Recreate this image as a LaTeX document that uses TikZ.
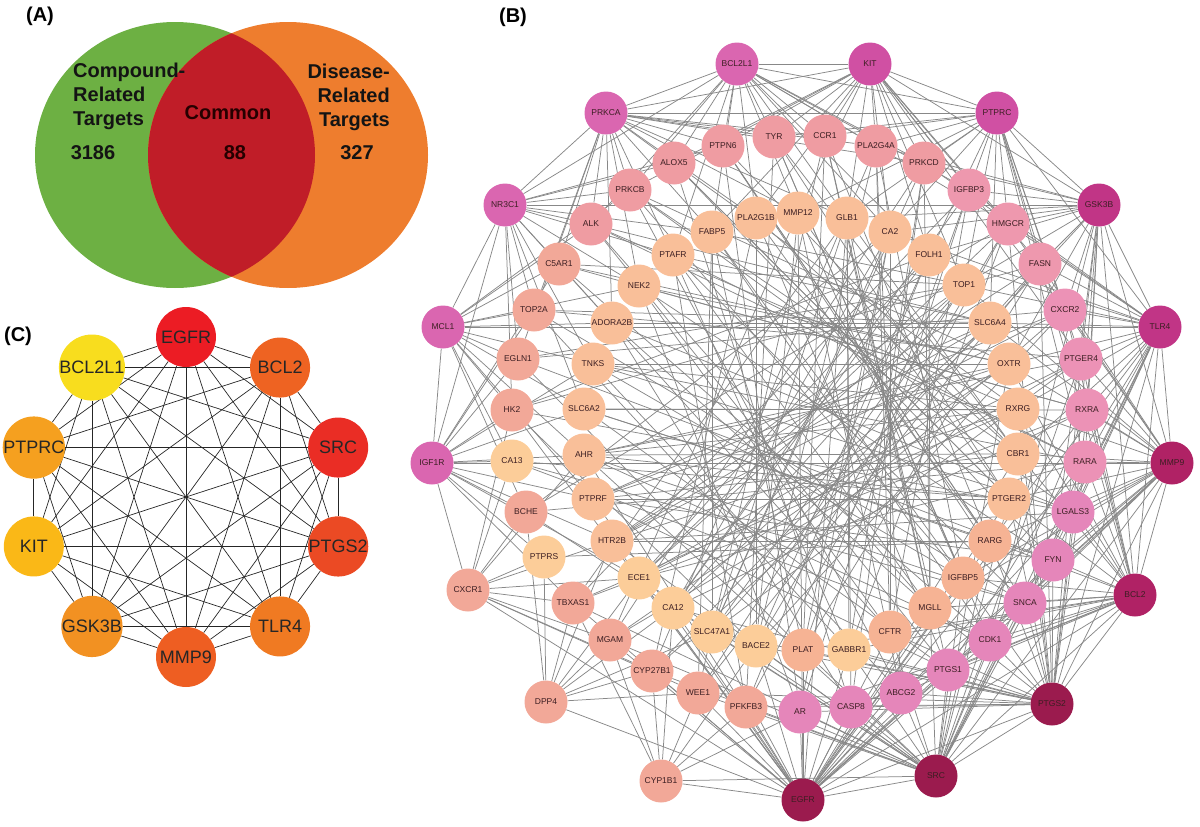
\documentclass[tikz,border=0pt]{standalone}
\usepackage{fontspec}
\setmainfont{Liberation Sans}
\usetikzlibrary{backgrounds}

\definecolor{vgreen}{HTML}{6DB043}
\definecolor{vorange}{HTML}{EE7D2E}
\definecolor{vred}{HTML}{C01D28}
\definecolor{edgegray}{HTML}{888888}
\definecolor{genetext}{HTML}{3C1E22}
\definecolor{hubA}{HTML}{9B1B4E}
\definecolor{hubB}{HTML}{B02265}
\definecolor{hubC}{HTML}{C13586}
\definecolor{hubD}{HTML}{D050A3}
\definecolor{hubE}{HTML}{DA66B0}
\definecolor{pinkM}{HTML}{E586BA}
\definecolor{pinkR}{HTML}{EC92B6}
\definecolor{pinkS}{HTML}{EE98AE}
\definecolor{salmpink}{HTML}{EF9CA2}
\definecolor{salm}{HTML}{F2A898}
\definecolor{peach}{HTML}{F9BF99}
\definecolor{peachS}{HTML}{F6B394}
\definecolor{yel}{HTML}{FCCD99}
% core gene colours for (C)
\definecolor{hEGFR}{HTML}{EC1C24}
\definecolor{hBCL2}{HTML}{EE6322}
\definecolor{hSRC}{HTML}{EA2D25}
\definecolor{hPTGS2}{HTML}{EB4A24}
\definecolor{hTLR4}{HTML}{F07A22}
\definecolor{hMMP9}{HTML}{EE5E22}
\definecolor{hGSK3B}{HTML}{F29122}
\definecolor{hKIT}{HTML}{FAB817}
\definecolor{hPTPRC}{HTML}{F5A01F}
\definecolor{hBCL2L1}{HTML}{F8DD1E}

\tikzstyle{gene}=[circle, minimum size=43pt, inner sep=0pt, text=genetext, font=\fontsize{8.5}{9}\selectfont]
\tikzstyle{core}=[circle, minimum size=60pt, inner sep=0pt, text=black!85, font=\fontsize{18}{18}\selectfont]
\tikzstyle{link}=[edgegray, line width=0.75pt]
\tikzstyle{clink}=[black!85, line width=0.7pt]
\tikzstyle{venntext}=[inner sep=0pt, text=black!92, font=\fontsize{20}{24}\bfseries]
\tikzstyle{panel}=[inner sep=0pt, font=\fontsize{20}{20}\bfseries]

\begin{document}
\begin{tikzpicture}[x=1pt, y=-1pt]
\useasboundingbox (0,0) rectangle (1200,827);

% panel labels
\node[panel] (labA) at (40,16) {(A)};
\node[panel] (labB) at (513,17) {(B)};
\node[panel] (labC) at (18,336) {(C)};

% (A) venn
\fill[vgreen] (175,155) ellipse [x radius=140, y radius=133];
\fill[vorange] (288,155) ellipse [x radius=140, y radius=133];
\begin{scope}
  \clip (175,155) ellipse [x radius=140, y radius=133];
  \fill[vred] (288,155) ellipse [x radius=140, y radius=133];
\end{scope}
\node[venntext, anchor=west, align=left] (cmp) at (73,96) {Compound-\\Related\\Targets};
\node[venntext] (cmpn) at (93,153) {3186};
\node[venntext, text=black!85!red] (com) at (228,113) {Common};
\node[venntext, text=black!85!red] (comn) at (235,153) {88};
\node[venntext, anchor=east, align=right] (dis) at (390,97) {Disease-\\Related\\Targets};
\node[venntext] (disn) at (357,153) {327};

% (B) outer ring
\node[gene, fill=hubA] (EGFR) at (803,800) {EGFR};
\node[gene, fill=hubA] (SRC) at (936,776) {SRC};
\node[gene, fill=hubA] (PTGS2) at (1052,704) {PTGS2};
\node[gene, fill=hubB] (BCL2) at (1135,595) {BCL2};
\node[gene, fill=hubB] (MMP9) at (1172,463) {MMP9};
\node[gene, fill=hubC] (TLR4) at (1160,327) {TLR4};
\node[gene, fill=hubC] (GSK3B) at (1099,205) {GSK3B};
\node[gene, fill=hubD] (PTPRC) at (997,113) {PTPRC};
\node[gene, fill=hubD] (KIT) at (870,64) {KIT};
\node[gene, fill=hubE] (BCL2L1) at (737,64) {BCL2L1};
\node[gene, fill=hubE] (PRKCA) at (606,113) {PRKCA};
\node[gene, fill=hubE] (NR3C1) at (505,205) {NR3C1};
\node[gene, fill=hubE] (MCL1) at (443,327) {MCL1};
\node[gene, fill=hubE] (IGF1R) at (432,463) {IGF1R};
\node[gene, fill=salm] (CXCR1) at (468,590) {CXCR1};
\node[gene, fill=salm] (DPP4) at (546,702) {DPP4};
\node[gene, fill=salm] (CYP1B1) at (661,781) {CYP1B1};

% (B) middle ring
\node[gene, fill=salmpink] (PTPN6) at (723,146) {PTPN6};
\node[gene, fill=salmpink] (TYR) at (774,137) {TYR};
\node[gene, fill=salmpink] (CCR1) at (825,136) {CCR1};
\node[gene, fill=salmpink] (PLA2G4A) at (876,146) {PLA2G4A};
\node[gene, fill=salmpink] (PRKCD) at (924,163) {PRKCD};
\node[gene, fill=pinkS] (IGFBP3) at (969,190) {IGFBP3};
\node[gene, fill=pinkS] (HMGCR) at (1008,224) {HMGCR};
\node[gene, fill=pinkS] (FASN) at (1040,264) {FASN};
\node[gene, fill=pinkR] (CXCR2) at (1065,310) {CXCR2};
\node[gene, fill=pinkR] (PTGER4) at (1081,359) {PTGER4};
\node[gene, fill=pinkR] (RXRA) at (1087,410) {RXRA};
\node[gene, fill=pinkR] (RARA) at (1085,462) {RARA};
\node[gene, fill=pinkM] (LGALS3) at (1073,512) {LGALS3};
\node[gene, fill=pinkM] (FYN) at (1053,560) {FYN};
\node[gene, fill=pinkM] (SNCA) at (1025,603) {SNCA};
\node[gene, fill=pinkM] (CDK1) at (990,640) {CDK1};
\node[gene, fill=pinkM] (PTGS1) at (948,670) {PTGS1};
\node[gene, fill=pinkM] (ABCG2) at (901,693) {ABCG2};
\node[gene, fill=pinkM] (CASP8) at (851,707) {CASP8};
\node[gene, fill=pinkM] (AR) at (800,712) {AR};
\node[gene, fill=salm] (PFKFB3) at (746,707) {PFKFB3};
\node[gene, fill=salm] (WEE1) at (698,693) {WEE1};
\node[gene, fill=salm] (CYP27B1) at (652,671) {CYP27B1};
\node[gene, fill=salm] (MGAM) at (610,640) {MGAM};
\node[gene, fill=salm] (TBXAS1) at (573,603) {TBXAS1};
\node[gene, fill=salm] (BCHE) at (526,512) {BCHE};
\node[gene, fill=salm] (HK2) at (512,410) {HK2};
\node[gene, fill=salm] (EGLN1) at (518,359) {EGLN1};
\node[gene, fill=salm] (TOP2A) at (534,310) {TOP2A};
\node[gene, fill=salm] (C5AR1) at (559,264) {C5AR1};
\node[gene, fill=salmpink] (ALK) at (591,224) {ALK};
\node[gene, fill=salmpink] (PRKCB) at (630,190) {PRKCB};
\node[gene, fill=salmpink] (ALOX5) at (674,163) {ALOX5};

% (B) inner ring
\node[gene, fill=peach] (PLA2G1B) at (756,218) {PLA2G1B};
\node[gene, fill=peach] (MMP12) at (798,213) {MMP12};
\node[gene, fill=peach] (GLB1) at (847,218) {GLB1};
\node[gene, fill=peach] (CA2) at (890,232) {CA2};
\node[gene, fill=peach] (FOLH1) at (929,255) {FOLH1};
\node[gene, fill=peach] (TOP1) at (964,285) {TOP1};
\node[gene, fill=peach] (SLC6A4) at (990,323) {SLC6A4};
\node[gene, fill=peach] (OXTR) at (1009,364) {OXTR};
\node[gene, fill=peach] (RXRG) at (1018,409) {RXRG};
\node[gene, fill=peach] (CBR1) at (1018,454) {CBR1};
\node[gene, fill=peach] (PTGER2) at (1009,499) {PTGER2};
\node[gene, fill=peachS] (RARG) at (990,541) {RARG};
\node[gene, fill=peachS] (IGFBP5) at (963,578) {IGFBP5};
\node[gene, fill=peachS] (MGLL) at (930,608) {MGLL};
\node[gene, fill=peachS] (CFTR) at (890,632) {CFTR};
\node[gene, fill=yel] (GABBR1) at (849,650) {GABBR1};
\node[gene, fill=peachS] (PLAT) at (803,650) {PLAT};
\node[gene, fill=yel] (BACE2) at (756,646) {BACE2};
\node[gene, fill=yel] (SLC47A1) at (712,632) {SLC47A1};
\node[gene, fill=yel] (CA12) at (673,608) {CA12};
\node[gene, fill=yel] (ECE1) at (639,578) {ECE1};
\node[gene, fill=yel] (PTPRS) at (544,557) {PTPRS};
\node[gene, fill=peach] (HTR2B) at (612,541) {HTR2B};
\node[gene, fill=peach] (PTPRF) at (593,499) {PTPRF};
\node[gene, fill=yel] (CA13) at (512,461) {CA13};
\node[gene, fill=peach] (AHR) at (584,455) {AHR};
\node[gene, fill=peach] (SLC6A2) at (584,409) {SLC6A2};
\node[gene, fill=peach] (TNKS) at (593,364) {TNKS};
\node[gene, fill=peach] (ADORA2B) at (612,323) {ADORA2B};
\node[gene, fill=peach] (NEK2) at (639,286) {NEK2};
\node[gene, fill=peach] (PTAFR) at (673,255) {PTAFR};
\node[gene, fill=peach] (FABP5) at (712,232) {FABP5};

% (C) hub genes
\foreach \name/\ang [count=\i from 0] in {EGFR/90, BCL2/54, SRC/18, PTGS2/-18, TLR4/-54, MMP9/-90, GSK3B/-126, KIT/-162, PTPRC/162, BCL2L1/126}
  \node[core, fill=h\name] (c\i) at ({186+160*cos(\ang)}, {497-160*sin(\ang)}) {\name};

\begin{pgfonlayer}{background}
  % (C) every pair
  \foreach \i in {0,...,8} {
    \pgfmathtruncatemacro\nxt{\i+1}
    \foreach \j in {\nxt,...,9}
      \draw[clink] (c\i) -- (c\j);
  }
  % (B) hub fans
  \foreach \hub/\targets in {
    EGFR/{AR,CASP8,ABCG2,PTGS1,CDK1,SNCA,FYN,LGALS3,RARA,PTGS2,SRC,BCL2,PLAT,GABBR1,CFTR,MGLL,IGFBP5,BACE2,PFKFB3,WEE1,CYP27B1,CYP1B1,SLC47A1,CA12,ECE1,MGAM,TBXAS1,DPP4,PTPRF,HTR2B,AHR,CBR1,PTGER2,RXRA,MMP9,TLR4,CXCR1,HK2,MMP12,GLB1},
    SRC/{AR,CASP8,ABCG2,PTGS1,CDK1,SNCA,FYN,LGALS3,RARA,RXRA,PTGS2,BCL2,PLAT,GABBR1,CFTR,MGLL,IGFBP5,RARG,PTGER2,BACE2,PFKFB3,WEE1,SLC47A1,CYP27B1,MGAM,TBXAS1,CYP1B1,HTR2B,AHR,OXTR,PTGER4,MMP9,TLR4,CA12,ECE1},
    PTGS2/{BCL2,CDK1,PTGS1,SNCA,FYN,LGALS3,ABCG2,CASP8,AR,RARA,RXRA,PTGER4,MGLL,IGFBP5,CFTR,GABBR1,RARG,PTGER2,CBR1,PLAT,BACE2,PFKFB3,WEE1,TLR4,MMP9,SLC47A1,CA12,RXRG,HMGCR,FASN},
    BCL2/{MMP9,TLR4,FYN,SNCA,CDK1,LGALS3,PTGS1,ABCG2,CASP8,AR,RARA,RXRA,IGFBP5,MGLL,PTGER4,CXCR2,RARG,PTGER2,CBR1,CFTR,GABBR1,PLAT,GSK3B,FASN,OXTR,RXRG},
    MMP9/{TLR4,RARA,RXRA,LGALS3,PTGER4,CXCR2,FYN,SNCA,FASN,HMGCR,CBR1,RXRG,OXTR,PTGER2,PTGS1,CDK1,IGF1R,RARG,IGFBP5,GSK3B,SLC6A4,TOP1,MGLL,ABCG2},
    TLR4/{GSK3B,CXCR2,PTGER4,RXRA,RARA,FASN,HMGCR,IGFBP3,SLC6A4,TOP1,OXTR,LGALS3,FYN,MCL1,FOLH1,PRKCD,RXRG,CBR1,SNCA,PTGS1,PTPRC,CA2},
    GSK3B/{PTPRC,HMGCR,FASN,IGFBP3,CXCR2,PTGER4,RXRA,PRKCD,NR3C1,TOP1,FOLH1,SLC6A4,CA2,PLA2G4A,RARA,OXTR,LGALS3,CDK1,FYN,KIT,GLB1},
    PTPRC/{KIT,IGFBP3,HMGCR,FASN,PRKCD,PLA2G4A,CCR1,CXCR2,PTGER4,RXRA,PRKCA,TYR,FOLH1,CA2,TOP1,GLB1,SLC6A4,RARA,MMP12,BCL2L1},
    KIT/{BCL2L1,CCR1,PLA2G4A,PRKCD,IGFBP3,TYR,PTPN6,HMGCR,GLB1,CA2,FOLH1,MMP12,PLA2G1B,ALOX5,PRKCB,FASN,CXCR2,PTGER4,TOP1,FABP5,PRKCA},
    BCL2L1/{PRKCA,PTPN6,TYR,ALOX5,PRKCB,CCR1,PLA2G4A,PLA2G1B,MMP12,GLB1,FABP5,PTAFR,PRKCD,IGFBP3,ALK,NR3C1,CA2,HMGCR,FOLH1},
    PRKCA/{NR3C1,ALOX5,PRKCB,PTPN6,ALK,C5AR1,TYR,PTAFR,FABP5,TOP2A,PLA2G1B,CCR1,NEK2,ADORA2B,MMP12,PLA2G4A,EGLN1,PRKCD,GLB1},
    NR3C1/{MCL1,ALK,C5AR1,TOP2A,EGLN1,PRKCB,HK2,ALOX5,PTAFR,NEK2,ADORA2B,TNKS,SLC6A2,FABP5,PTPN6,IGF1R},
    MCL1/{IGF1R,TOP2A,EGLN1,HK2,C5AR1,ADORA2B,TNKS,SLC6A2,AHR,ALK,NEK2,CA13,PTPRF,BCHE,PRKCB},
    IGF1R/{HK2,CA13,BCHE,CXCR1,EGLN1,PTPRS,TBXAS1,AHR,PTPRF,SLC6A2,TNKS,HTR2B,ECE1,TOP2A,C5AR1},
    CXCR1/{PTPRS,TBXAS1,MGAM,BCHE,HK2,CA13,HTR2B,ECE1,CYP27B1,WEE1,AHR},
    DPP4/{MGAM,TBXAS1,CYP27B1,PTPRS,ECE1,CA12,SLC47A1,WEE1,BCHE,HTR2B},
    CYP1B1/{CYP27B1,MGAM,WEE1,AR,PFKFB3,TBXAS1,CA12,BACE2}}
  {\foreach \t in \targets \draw[link] (\hub) -- (\t);}
  % (B) chords across the middle
  \foreach \a/\b in {PTPN6/RARG, TYR/CBR1, ALOX5/PTGER2, PRKCB/IGFBP5, ALK/MGLL, C5AR1/CFTR, TOP2A/GABBR1, EGLN1/PLAT, HK2/BACE2, BCHE/SLC47A1, TBXAS1/RXRG, MGAM/OXTR, CYP27B1/SLC6A4, WEE1/TOP1, PFKFB3/FOLH1, AR/CA2, CASP8/GLB1, ABCG2/MMP12, PTGS1/PLA2G1B, CDK1/FABP5, SNCA/PTAFR, FYN/NEK2, LGALS3/ADORA2B, RARA/TNKS, RXRA/SLC6A2, PTGER4/AHR, CXCR2/PTPRF, FASN/HTR2B, HMGCR/ECE1, IGFBP3/CA12, PRKCD/SLC47A1, PLA2G4A/BACE2, CCR1/PLAT, ADORA2B/SLC6A4, TNKS/OXTR, SLC6A2/RXRG, AHR/CBR1, PTPRF/PTGER2, HTR2B/RARG, PLA2G1B/BACE2, CA2/CFTR, FABP5/SLC47A1, GLB1/GABBR1, FOLH1/MGLL, NEK2/CFTR, PTAFR/MGLL, FABP5/IGFBP5, PLA2G1B/RARG, MMP12/PTGER2, GLB1/CBR1, CA2/SLC47A1, FOLH1/CA12, TOP1/ECE1, SLC6A4/HTR2B, OXTR/PTPRF, RXRG/AHR, NEK2/RXRA, PTAFR/RARA, TNKS/LGALS3, SLC6A2/FYN, AHR/SNCA, CA13/CDK1, PTPRF/PTGS1, HTR2B/CXCR2, ECE1/PTGER4, CA12/TOP1, SLC47A1/FASN, BACE2/HMGCR, PLAT/IGFBP3, GABBR1/PRKCD, CFTR/PLA2G4A, MGLL/CCR1, IGFBP5/TYR, RARG/PTPN6, PTGER2/ALOX5, CBR1/PRKCB, RXRG/ALK, OXTR/C5AR1, SLC6A4/TOP2A, TOP1/EGLN1, FOLH1/HK2, CA2/BCHE, GLB1/TBXAS1, MMP12/MGAM, PLA2G1B/CYP27B1, FABP5/WEE1, PTAFR/PFKFB3, NEK2/AR, ADORA2B/CASP8, TNKS/ABCG2, SLC6A2/PTGS1, AHR/CDK1, CA13/SNCA, PTPRF/FYN, HTR2B/LGALS3, ECE1/RARA, CA12/RXRA, SLC47A1/PTGER4, BACE2/CXCR2, PLAT/FASN, GABBR1/HMGCR, CFTR/IGFBP3, MGLL/PRKCD, IGFBP5/PLA2G4A, RARG/CCR1, PTGER2/TYR, CBR1/PTPN6, RXRG/ALOX5, OXTR/PRKCB, SLC6A4/ALK, TOP1/C5AR1,
      PLA2G1B/CBR1, MMP12/IGFBP5, GLB1/MGLL, CA2/PLAT, FOLH1/BACE2, TOP1/SLC47A1, SLC6A4/CA12, OXTR/ECE1, RXRG/HTR2B, CBR1/PTPRF, PTGER2/AHR, RARG/SLC6A2, IGFBP5/TNKS, MGLL/ADORA2B, GABBR1/PTAFR, PLAT/FABP5, BACE2/MMP12, SLC47A1/GLB1, CA12/CA2, ECE1/FOLH1, HTR2B/TOP1, PTPRF/SLC6A4, AHR/OXTR, TNKS/RXRG, NEK2/OXTR, PTAFR/SLC6A4, FABP5/TOP1, CA13/PTGER2, PTPRS/RARG,
      PTPN6/SNCA, TYR/CDK1, CCR1/PTGS1, PLA2G4A/ABCG2, PRKCD/CASP8, IGFBP3/AR, HMGCR/PFKFB3, FASN/WEE1, CXCR2/CYP27B1, PTGER4/MGAM, RXRA/TBXAS1, RARA/BCHE, LGALS3/HK2, FYN/EGLN1, SNCA/TOP2A, CDK1/C5AR1, PTGS1/ALK, ABCG2/PRKCB, CASP8/ALOX5, AR/PTPN6, PFKFB3/TYR, WEE1/CCR1, CYP27B1/PLA2G4A, MGAM/PRKCD, TBXAS1/IGFBP3, BCHE/HMGCR, HK2/FASN, EGLN1/CXCR2, TOP2A/PTGER4, C5AR1/RXRA, ALK/RARA, PRKCB/LGALS3, ALOX5/FYN}
    \draw[link] (\a) -- (\b);
\end{pgfonlayer}
\end{tikzpicture}
\end{document}
